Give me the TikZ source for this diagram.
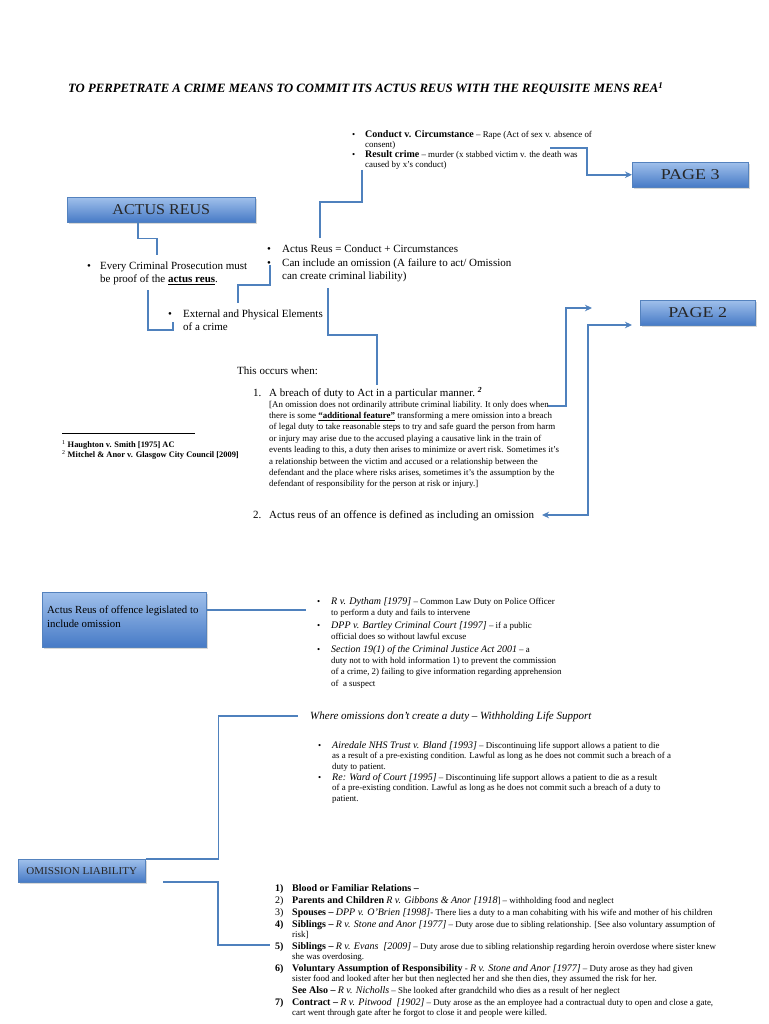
\documentclass[tikz,border=0pt]{standalone}
\usepackage{fontspec}
\usepackage{graphicx}
\setmainfont{Liberation Serif}
\usetikzlibrary{arrows.meta,shadows}
\definecolor{conncol}{RGB}{79,129,189}
\definecolor{boxtop}{RGB}{160,192,235}
\definecolor{boxbot}{RGB}{70,122,198}
\definecolor{boxline}{RGB}{84,130,190}
\newcommand{\lns}[1]{\begin{tabular}[t]{@{}l@{}}#1\end{tabular}}
\newcommand{\caseit}[1]{{\fontsize{10}{11}\selectfont\itshape #1}}
\newcommand{\casebf}[1]{{\fontsize{10}{11}\selectfont\bfseries #1}}
\newcommand{\casern}[1]{{\fontsize{10}{11}\selectfont #1}}
\newcommand{\boxtxt}[3]{{\fontsize{#1}{#1}\selectfont\scalebox{#2}[1]{#3}}}
\begin{document}
\begin{tikzpicture}[x=1pt,y=-1pt,
  txt/.style={inner sep=0pt, anchor=base west},
  sm/.style={font=\fontsize{8.9}{11.4}\selectfont},
  smt/.style={font=\fontsize{8.9}{10}\selectfont},
  smb/.style={font=\fontsize{8.9}{10.5}\selectfont},
  body/.style={font=\fontsize{11}{13.5}\selectfont},
  conn/.style={draw=conncol, line width=1.6pt},
  arr/.style={-{Stealth[length=7pt,width=6.5pt]}},
  bbox/.style={draw=boxline, line width=0.5pt, top color=boxtop, bottom color=boxbot,
    drop shadow={opacity=0.3,shadow xshift=1.5pt,shadow yshift=-1.5pt},
    inner sep=0pt, anchor=north west, text=black!85}]
\useasboundingbox (0,0) rectangle (768,1024);
\fill[white] (0,0) rectangle (768,1024);

% title
\node[txt, font=\fontsize{12.7}{14}\selectfont\bfseries\itshape] (title) at (68,93)
  {TO PERPETRATE A CRIME MEANS TO COMMIT ITS ACTUS REUS WITH THE REQUISITE MENS REA\textsuperscript{1}};

% top bullets
\node[txt, smt] (b1) at (352,138) {•};
\node[txt, smt] (t1) at (365,138) {\lns{\casebf{Conduct v. Circumstance} – Rape (Act of sex v. absence of\\consent)}};
\node[txt, smt] (b2) at (352,158) {•};
\node[txt, smt] (t2) at (365,158) {\lns{\casebf{Result crime} – murder (x stabbed victim v. the death was\\caused by x’s conduct)}};

% boxes
\node[bbox, minimum width=116pt, minimum height=25pt] (page3) at (632,162) {\boxtxt{15}{1.2}{PAGE 3}};
\node[bbox, minimum width=188pt, minimum height=25pt] (actus) at (67,197) {\boxtxt{15}{1.07}{ACTUS REUS}};
\node[bbox, minimum width=115pt, minimum height=25pt] (page2) at (640,300) {\boxtxt{15}{1.2}{PAGE 2}};

% actus reus bullets
\node[txt, body] (b3) at (267,252) {•};
\node[txt, body] (t3) at (282,252) {Actus Reus = Conduct + Circumstances};
\node[txt, body] (b4) at (267,266) {•};
\node[txt, body] (t4) at (282,266) {\lns{Can include an omission (A failure to act/ Omission\\can create criminal liability)}};
\node[txt, body] (b5) at (87,269) {•};
\node[txt, body] (t5) at (100,269) {\lns{Every Criminal Prosecution must\\be proof of the \underline{\textbf{actus reus}}.}};
\node[txt, body] (b6) at (168,317) {•};
\node[txt, body] (t6) at (183,317) {\lns{External and Physical Elements\\of a crime}};

% this occurs when
\node[txt, body] (occ) at (237,374) {This occurs when:};
\node[txt, body] (n1a) at (253,396) {1.};
\node[txt, body] (i1a) at (269,396) {A breach of duty to Act in a particular manner.~\textsuperscript{\textbf{\textit{2}}}};
\node[txt, sm] (para) at (269,407) {\lns{[An omission does not ordinarily attribute criminal liability. It only does when\\
there is some \underline{\textbf{“additional feature”}} transforming a mere omission into a breach\\
of legal duty to take reasonable steps to try and safe guard the person from harm\\
or injury may arise due to the accused playing a causative link in the train of\\
events leading to this, a duty then arises to minimize or avert risk. Sometimes it’s\\
a relationship between the victim and accused or a relationship between the\\
defendant and the place where risks arises, sometimes it’s the assumption by the\\
defendant of responsibility for the person at risk or injury.]}};
\node[txt, body] (n2a) at (253,518) {2.};
\node[txt, body] (i2a) at (269,518) {Actus reus of an offence is defined as including an omission};

% footnotes
\draw[line width=0.5pt] (62,433) -- (195,433);
\node[txt, font=\fontsize{8.4}{10}\selectfont\bfseries] (fn1) at (62,447) {\textsuperscript{\mdseries 1} Haughton v. Smith [1975] AC};
\node[txt, font=\fontsize{8.4}{10}\selectfont\bfseries] (fn2) at (62,457.5) {\textsuperscript{\mdseries 2} Mitchel \& Anor v. Glasgow City Council [2009]};

% legislated box
\node[bbox, minimum width=164pt, minimum height=55pt] (legis) at (42,592) {};
\node[txt, font=\fontsize{10.8}{14}\selectfont] (legtxt) at (47,613) {\lns{Actus Reus of offence legislated to\\include omission}};

\node[txt, sm] (b7) at (317,604) {•};
\node[txt, sm] (t7) at (331,604) {\lns{\caseit{R v. Dytham [1979]} – Common Law Duty on Police Officer\\to perform a duty and fails to intervene}};
\node[txt, sm] (b8) at (317,628) {•};
\node[txt, sm] (t8) at (331,628) {\lns{\caseit{DPP v. Bartley Criminal Court [1997]} – if a public\\official does so without lawful excuse}};
\node[txt, sm] (b9) at (317,652) {•};
\node[txt, sm] (t9) at (331,652) {\lns{\caseit{Section 19(1) of the Criminal Justice Act 2001} – a\\duty not to with hold information 1) to prevent the commission\\of a crime, 2) failing to give information regarding apprehension\\of\ \ a suspect}};

% withholding life support
\node[txt, font=\fontsize{11}{13}\selectfont\itshape] (wls) at (310,719) {Where omissions don’t create a duty – Withholding Life Support};
\node[txt, smb] (b10) at (318,748) {•};
\node[txt, smb] (t10) at (332,748) {\lns{\caseit{Airedale NHS Trust v. Bland [1993]} – Discontinuing life support allows a patient to die\\as a result of a pre-existing condition. Lawful as long as he does not commit such a breach of a\\duty to patient.}};
\node[txt, smb] (b11) at (318,780) {•};
\node[txt, smb] (t11) at (332,780) {\lns{\caseit{Re: Ward of Court [1995]} – Discontinuing life support allows a patient to die as a result\\of a pre-existing condition. Lawful as long as he does not commit such a breach of a duty to\\patient.}};

% omission liability
\node[bbox, minimum width=127pt, minimum height=23pt] (omit) at (18,859) {\boxtxt{10.5}{1.05}{OMISSION LIABILITY}};

\node[txt, smb] (m1) at (275,891) {\casebf{1)}};
\node[txt, smb] (k1) at (292,891) {\casebf{Blood or Familiar Relations –}};
\node[txt, smb] (m2) at (275,903) {\casern{2)}};
\node[txt, smb] (k2) at (292,903) {\casebf{Parents and Children} \caseit{R v. Gibbons \& Anor [1918}] – withholding food and neglect};
\node[txt, smb] (m3) at (275,915) {\casern{3)}};
\node[txt, smb] (k3) at (292,915) {\casebf{Spouses –} \caseit{DPP v. O’Brien [1998]}- There lies a duty to a man cohabiting with his wife and mother of his children};
\node[txt, smb] (m4) at (275,927) {\casebf{4)}};
\node[txt, smb] (k4) at (292,927) {\lns{\casebf{Siblings –} \caseit{R v. Stone and Anor [1977]} – Duty arose due to sibling relationship. [See also voluntary assumption of\\risk]}};
\node[txt, smb] (m5) at (275,949) {\casebf{5)}};
\node[txt, smb] (k5) at (292,949) {\lns{\casebf{Siblings –} \caseit{R v. Evans\ \ [2009]} – Duty arose due to sibling relationship regarding heroin overdose where sister knew\\she was overdosing.}};
\node[txt, smb] (m6) at (275,971) {\casebf{6)}};
\node[txt, smb] (k6) at (292,971) {\lns{\casebf{Voluntary Assumption of Responsibility} - \caseit{R v. Stone and Anor [1977]} – Duty arose as they had given\\sister food and looked after her but then neglected her and she then dies, they assumed the risk for her.}};
\node[txt, smb] (k6b) at (292,993) {\casebf{See Also –} \caseit{R v. Nicholls} – She looked after grandchild who dies as a result of her neglect};
\node[txt, smb] (m7) at (275,1005) {\casebf{7)}};
\node[txt, smb] (k7) at (292,1005) {\lns{\casebf{Contract –} \caseit{R v. Pitwood\ \ [1902]} – Duty arose as the an employee had a contractual duty to open and close a gate,\\cart went through gate after he forgot to close it and people were killed.}};

% connector end points
\coordinate (c1) at (550,148);
\coordinate (c2a) at (362,170);
\coordinate (c2b) at (320,238);
\coordinate (c3) at (157,255);
\coordinate (c4a) at (148,290);
\coordinate (c4b) at (173,322);
\coordinate (c5a) at (270,265);
\coordinate (c5b) at (238,303);
\coordinate (c6a) at (328,288);
\coordinate (c6b) at (377,385);
\coordinate (c7a) at (548,406);
\coordinate (c7b) at (592,308);
\coordinate (c8a) at (542,515);
\coordinate (c8b) at (632,325);
\coordinate (c9) at (306,610);
\coordinate (c10) at (298,716);
\coordinate (c11a) at (163,882);
\coordinate (c11b) at (270,945);

% connectors
\draw[conn,arr] (c1) -- ++(37,0) |- (page3.west);
\draw[conn] (c2a) -- ++(0,32) -| (c2b);
\draw[conn] (actus.south west) ++(71,0) -- ++(0,16) -| (c3);
\draw[conn] (c4a) -- ++(0,40) -| (c4b);
\draw[conn] (c5a) -- ++(0,20) -| (c5b);
\draw[conn] (c6a) -- ++(0,47) -| (c6b);
\draw[conn,arr] (c7a) -- ++(18,0) |- (c7b);
\draw[conn,{Stealth[length=7pt,width=6.5pt]}-{Stealth[length=7pt,width=6.5pt]}] (c8a) -- ++(46,0) |- (c8b);
\draw[conn] (legis.east |- c9) -- (c9);
\draw[conn] (omit.north east) -- ++(73,0) |- (c10);
\draw[conn] (c11a) -- ++(55,0) |- (c11b);
\end{tikzpicture}
\end{document}
